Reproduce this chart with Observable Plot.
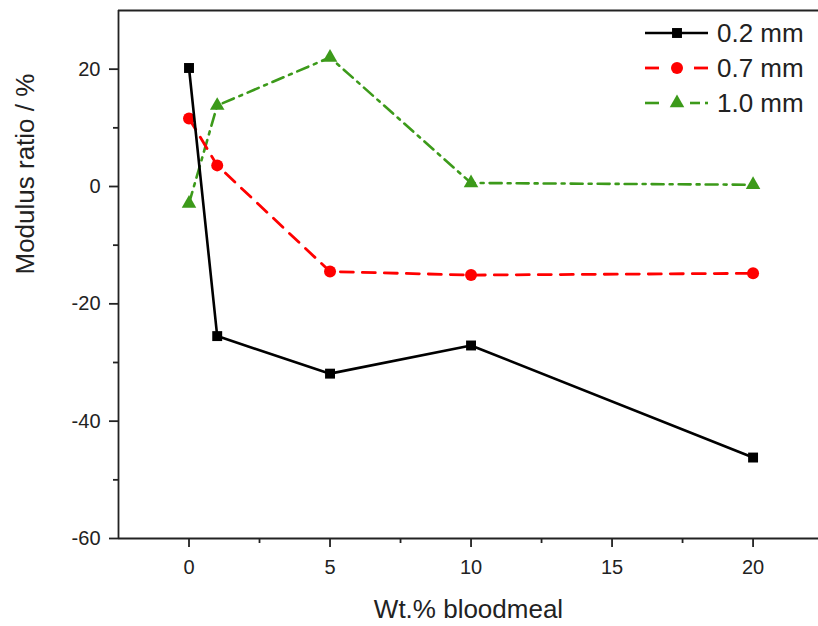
<!DOCTYPE html>
<html>
<head>
<meta charset="utf-8">
<script src="https://cdn.jsdelivr.net/npm/d3@7"></script>
<script src="https://cdn.jsdelivr.net/npm/@observablehq/plot@0.6"></script>
<style>
  html, body { margin: 0; padding: 0; background: #fff; }
  #wrap { position: relative; width: 818px; height: 626px; }
  #legend { position: absolute; left: 0; top: 0; pointer-events: none; }
</style>
</head>
<body>
<div id="wrap"></div>
<script>
// ---- data ----
const doses = [0, 1, 5, 10, 20];
const mod02 = [20.2, -25.5, -31.9, -27.1, -46.2];
const mod07 = [11.6, 3.6, -14.5, -15.1, -14.8];
const mod10 = [-2.9, 13.8, 22.0, 0.6, 0.3];
const seriesNames = ["0.2 mm", "0.7 mm", "1.0 mm"];
const xTicks = [0, 5, 10, 15, 20];
const xMinorTicks = [2.5, 7.5, 12.5, 17.5];
const yTicks = [-60, -40, -20, 0, 20];
const yMinorTicks = [-50, -30, -10, 10];
const xDomain = [-2.5, 22.32];
const yDomain = [-60, 30];

// ---- styles ----
const styles = {
  "0.2 mm": {color: "#000000", dash: null, symbol: "square", r: 5.6, width: 2.6,
             legendSegs: [[0, 63]]},
  "0.7 mm": {color: "#ff0000", dash: "13,9", symbol: "circle", r: 6, width: 2.8,
             legendSegs: [[0, 14], [49, 63]]},
  "1.0 mm": {color: "#3c9a1a", dash: "12,6,3,6", symbol: "triangle", r: 5.4, width: 2.6,
             legendSegs: [[0, 14], [45, 55], [60, 63]]}
};
const valuesBySeries = {"0.2 mm": mod02, "0.7 mm": mod07, "1.0 mm": mod10};
const rows = s => doses.map((d, i) => ({dose: d, value: valuesBySeries[s][i], series: s}));

const font = "'Liberation Sans', Arial, sans-serif";
const axisColor = "#222";
const fmt = d => String(d);

const drawOrder = ["1.0 mm", "0.7 mm", "0.2 mm"];
const seriesMarks = drawOrder.flatMap(s => {
  const st = styles[s];
  return [
    Plot.line(rows(s), {x: "dose", y: "value", stroke: st.color, strokeWidth: st.width,
      strokeDasharray: st.dash || undefined}),
    Plot.dot(rows(s), {x: "dose", y: "value", symbol: () => st.symbol, r: st.r,
      fill: st.color, stroke: "none"})
  ];
});

const chart = Plot.plot({
  width: 818,
  height: 626,
  marginLeft: 118,
  marginRight: 0,
  marginTop: 10,
  marginBottom: 88,
  style: {fontFamily: font, background: "#fff", color: axisColor},
  x: {domain: xDomain},
  y: {domain: yDomain},
  marks: [
    ...seriesMarks,
    Plot.ruleX([xDomain[0]], {stroke: axisColor, strokeWidth: 1.8}),
    Plot.ruleY([yDomain[0]], {stroke: axisColor, strokeWidth: 1.8}),
    Plot.ruleY([yDomain[1]], {stroke: axisColor, strokeWidth: 1.8}),
    Plot.axisX({ticks: xTicks, tickSize: 9, tickPadding: 12, fontSize: 20, label: null,
      tickFormat: fmt, strokeWidth: 1.8, stroke: axisColor, fill: "#222"}),
    Plot.axisX({ticks: xMinorTicks, tickSize: 5, tickFormat: () => "", label: null,
      strokeWidth: 1.8, stroke: axisColor}),
    Plot.axisY({ticks: yTicks, tickSize: 9, tickPadding: 9, fontSize: 20, label: null,
      tickFormat: fmt, strokeWidth: 1.8, stroke: axisColor, fill: "#222"}),
    Plot.axisY({ticks: yMinorTicks, tickSize: 5, tickFormat: () => "", label: null,
      strokeWidth: 1.8, stroke: axisColor}),
    Plot.text(["Wt.% bloodmeal"], {frameAnchor: "bottom", dy: 71, lineAnchor: "middle",
      fontSize: 26, fill: "#222", text: d => d}),
    Plot.text(["Modulus ratio / %"], {frameAnchor: "left", dx: -93, lineAnchor: "middle",
      rotate: -90, fontSize: 26, fill: "#222", text: d => d})
  ]
});

const wrap = document.getElementById("wrap");
wrap.appendChild(chart);

// ---- legend (inside top-right) ----
const leg = d3.select(wrap).append("svg")
  .attr("id", "legend")
  .attr("width", 818).attr("height", 130)
  .style("font-family", font);
const lx0 = 645, lxm = 677, ltx = 717, ly0 = 33, lstep = 35;
seriesNames.forEach((s, i) => {
  const st = styles[s];
  const y = ly0 + i * lstep;
  const g = leg.append("g");
  st.legendSegs.forEach(([a, b]) => {
    g.append("line").attr("x1", lx0 + a).attr("x2", lx0 + b).attr("y1", y).attr("y2", y)
      .attr("stroke", st.color).attr("stroke-width", st.width);
  });
  const sym = {square: d3.symbolSquare, circle: d3.symbolCircle, triangle: d3.symbolTriangle}[st.symbol];
  g.append("path").attr("d", d3.symbol(sym, Math.PI * st.r * st.r)())
    .attr("transform", `translate(${lxm},${y})`).attr("fill", st.color);
  g.append("text").attr("x", ltx).attr("y", y).attr("dy", "0.36em")
    .attr("font-size", 26).attr("fill", "#222").text(s);
});
</script>
</body>
</html>
